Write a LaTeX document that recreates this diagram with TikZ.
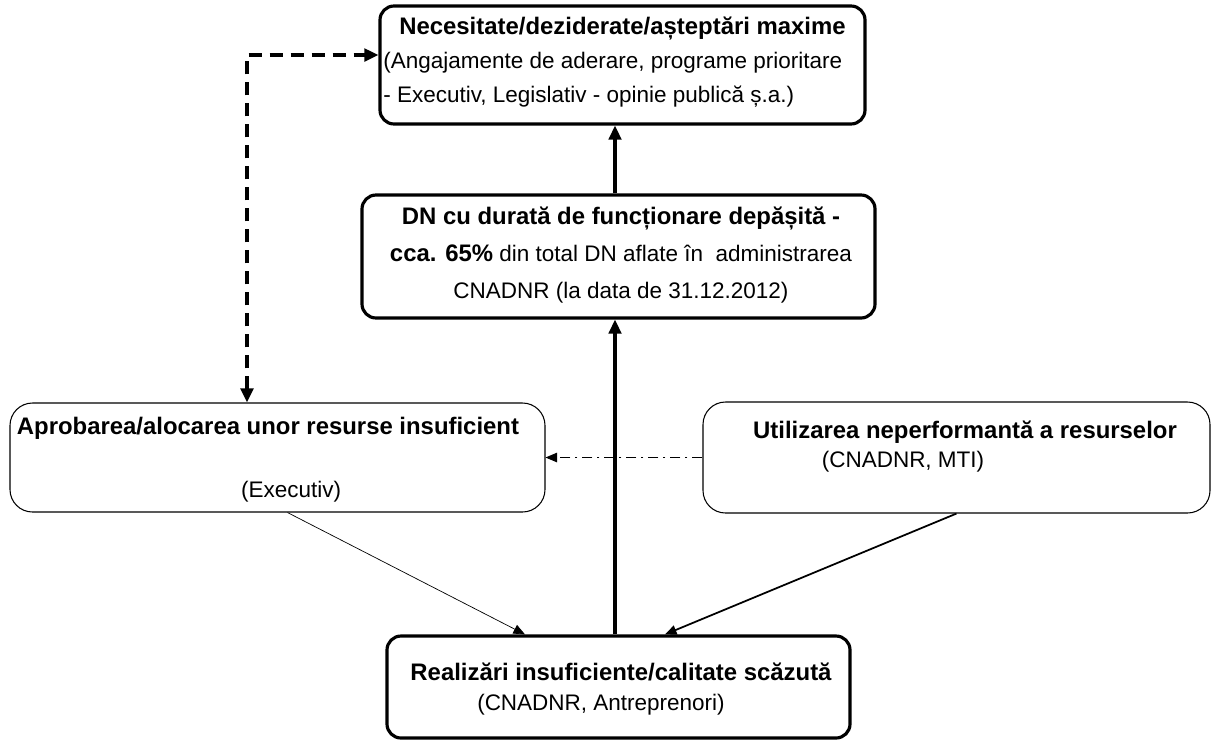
\documentclass[tikz,border=0pt]{standalone}
\usepackage{fontspec}
\setmainfont{Liberation Sans}
\usetikzlibrary{arrows.meta}

\newcommand{\titlu}[1]{{\fontsize{13.6}{19.5}\selectfont\bfseries #1}}

\begin{document}
\begin{tikzpicture}[
	cajagruesa/.style={draw=black,line width=1.8pt,rounded corners=0.28cm,inner sep=0pt},
	cajafina/.style={draw=black,line width=0.6pt,rounded corners=0.45cm,inner sep=0pt},
	texto/.style={inner sep=0pt,font=\fontsize{12.8}{19.5}\selectfont},
	flechagruesa/.style={line width=1.8pt,-{Triangle[length=2.8mm,width=2.5mm]}},
	flechafina/.style={-{Triangle[length=2.3mm,width=1.9mm]}}
	]

	\useasboundingbox (0,0) rectangle (24.4,-14.8);

	%cajas
	\node[cajagruesa,minimum width=9.7cm,minimum height=2.36cm] (necesitate) at (12.45,-1.30) {};
	\node[cajagruesa,minimum width=10.26cm,minimum height=2.46cm] (dn) at (12.37,-5.13) {};
	\node[cajafina,minimum width=10.7cm,minimum height=2.18cm] (aprobare) at (5.55,-9.15) {};
	\node[cajafina,minimum width=10.14cm,minimum height=2.22cm] (utilizare) at (19.13,-9.15) {};
	\node[cajagruesa,minimum width=9.26cm,minimum height=2.04cm] (realizari) at (12.37,-13.74) {};

	%textos
	\node[texto] (necesitate-tit) at (12.45,-0.56) {\titlu{Necesitate/deziderate/așteptări maxime}};
	\node[texto,anchor=west,align=left] (necesitate-sub) at (7.66,-1.60) {(Angajamente de aderare, programe prioritare\\- Executiv, Legislativ - opinie publică ș.a.)};

	\node[texto,align=center,font=\fontsize{12.8}{21.3}\selectfont] (dn-txt) at (12.42,-5.10) {\titlu{DN cu durată de funcționare depășită -}\\\titlu{cca. 65\%} din total DN aflate în~ administrarea\\CNADNR (la data de 31.12.2012)};

	\node[texto] (aprobare-tit) at (5.36,-8.56) {\titlu{Aprobarea/alocarea unor resurse insuficient}};
	\node[texto] (aprobare-sub) at (5.82,-9.84) {(Executiv)};

	\node[texto] (utilizare-tit) at (19.3,-8.64) {\titlu{Utilizarea neperformantă a resurselor}};
	\node[texto] (utilizare-sub) at (18.06,-9.24) {(CNADNR, MTI)};

	\node[texto] (realizari-tit) at (12.42,-13.44) {\titlu{Realizări insuficiente/calitate scăzută}};
	\node[texto] (realizari-sub) at (12.02,-14.10) {(CNADNR, Antreprenori)};

	%flechas
	\coordinate (eje) at (12.3,0);
	\draw[flechagruesa] (realizari.north -| eje) -- (dn.south -| eje);
	\draw[flechagruesa] (dn.north -| eje) -- (necesitate.south -| eje);

	%retroalimentacion
	\draw[line width=1.9pt,dash pattern=on 2.6mm off 1.6mm,{Triangle[length=2.8mm,width=2.5mm]}-{Triangle[length=2.8mm,width=2.5mm]}] ([xshift=-0.61cm]aprobare.north) |- ([yshift=0.2cm]necesitate.west);

	\draw[flechafina,line width=0.5pt,dash pattern=on 2mm off 1mm on 0.4mm off 1mm] (utilizare.west) -- (aprobare.east);

	\draw[flechafina,line width=0.4pt] ([xshift=0.2cm]aprobare.south) -- ([xshift=-1.87cm]realizari.north);
	\draw[flechafina,line width=1pt] (utilizare.south) -- ([xshift=0.93cm]realizari.north);

\end{tikzpicture}
\end{document}
